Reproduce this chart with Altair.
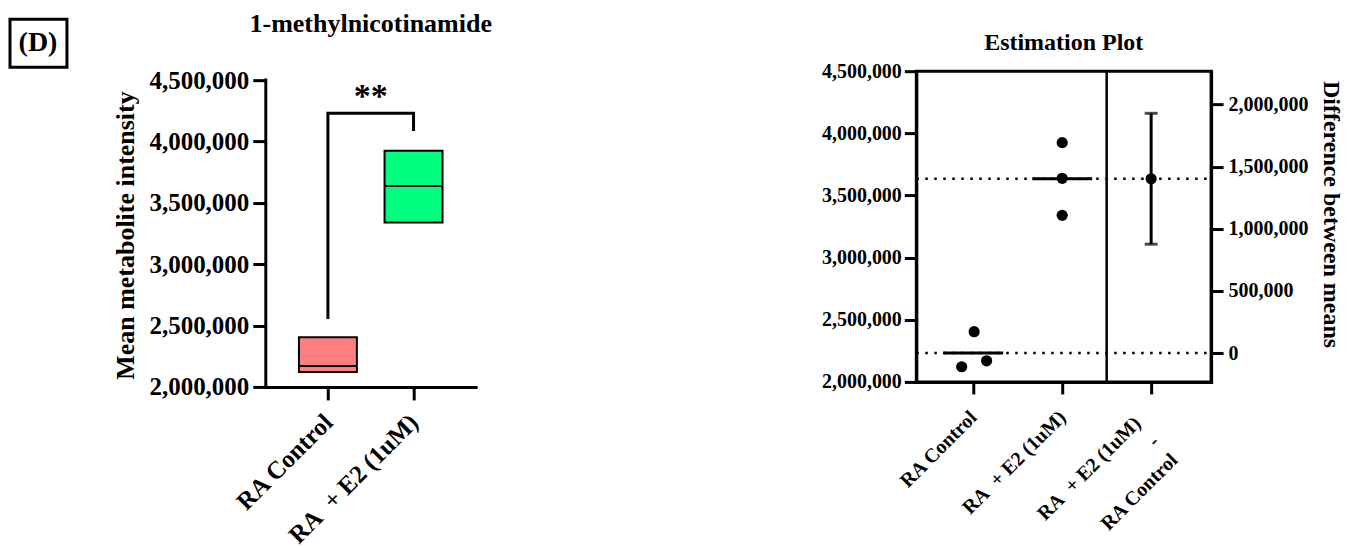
import json
import altair as alt
import pandas as pd

FONT = "Liberation Serif"

# ---- data ----
groups = ["RA Control", "RA\u00a0 + E2 (1uM)"]
ctrl_values = [2404000, 2122000, 2170000]
e2_values = [3925000, 3638000, 3340000]
ctrl_jitter = [0.01, -0.13, 0.15]
e2_jitter = [0.0, 0.0, 0.0]
box_colors = ["#FF7F7F", "#00FF7F"]
diff_label = [groups[1], "-", groups[0]]
diff_ci = [876000, 1929000]
bracket_x = [0, 0, 1, 1]
bracket_y = [2554000, 4230000, 4230000, 4085000]
sig_text = ["**"]
sig_y = [4278000]
left_ticks = [2000000, 2500000, 3000000, 3500000, 4000000, 4500000]
right_ticks = [0, 500000, 1000000, 1500000, 2000000]
panel_label = ["(D)"]
title_left = "1-methylnicotinamide"
title_right = "Estimation Plot"

df = pd.DataFrame({
    "group": [groups[0]] * len(ctrl_values) + [groups[1]] * len(e2_values),
    "idx": [0] * len(ctrl_values) + [1] * len(e2_values),
    "value": ctrl_values + e2_values,
    "jit": ctrl_jitter + e2_jitter,
})
ctrl_mean = sum(ctrl_values) / len(ctrl_values)
e2_mean = sum(e2_values) / len(e2_values)
df_diff = pd.DataFrame({"idx": [2], "diff": [e2_mean - ctrl_mean],
                        "lo": [diff_ci[0]], "hi": [diff_ci[1]]})
df_br = pd.DataFrame({"bx": bracket_x, "by": bracket_y, "ord": list(range(len(bracket_x)))})
df_sig = pd.DataFrame({"t": sig_text, "x": [0.5], "y": sig_y})
df_lab = pd.DataFrame({"t": panel_label})

# ---------------- left panel ----------------
# plot area starts 9px above the 4,500,000 tick (so both panels share one top edge)
yL_left = alt.Scale(domain=[2000000, 4573000], nice=False, zero=False)
xL = alt.Scale(domain=[-0.667, 1.667], nice=False, zero=False)

xL_axis = alt.Axis(values=[0, 1], labelExpr=f"{json.dumps(groups)}[datum.value]",
                   labelAngle=-45, labelAlign="right", labelBaseline="middle",
                   labelFontSize=25, labelPadding=18, tickSize=13, title=None,
                   labelOverlap=False, labelFlush=False, labelBound=False)
yL_axis = alt.Axis(values=left_ticks, format=",d", labelFontSize=25, tickSize=13,
                   labelPadding=4, title="Mean metabolite intensity", domain=False,
                   titleFontSize=26, titlePadding=10, titleY=164, titleAlign="center",
                   labelOverlap=False)

base = alt.Chart(df)
bars = base.mark_bar(size=58, stroke="black", strokeWidth=2).encode(
    x=alt.X("idx:Q", scale=xL, axis=xL_axis),
    y=alt.Y("min(value):Q", scale=yL_left, axis=yL_axis),
    y2="max(value)",
    color=alt.Color("group:N", scale=alt.Scale(domain=groups, range=box_colors), legend=None),
)
yline = alt.Chart(df_lab).mark_rule(strokeWidth=3, color="black", strokeCap="square").encode(
    x=alt.value(0), y=alt.datum(left_ticks[0]), y2=alt.datum(left_ticks[-1]))
med = base.mark_tick(orient="horizontal", size=58, thickness=2, color="black").encode(
    x="idx:Q", y="median(value):Q")
bracket = alt.Chart(df_br).mark_line(color="black", strokeWidth=3, strokeJoin="miter").encode(
    x="bx:Q", y="by:Q", order="ord:Q")
sig = alt.Chart(df_sig).mark_text(font=FONT, fontSize=34, fontWeight="bold",
                                  baseline="alphabetic", color="black").encode(
    x="x:Q", y="y:Q", text="t:N")
dbox = alt.Chart(df_lab).mark_rect(fillOpacity=0, stroke="black", strokeWidth=3).encode(
    x=alt.value(-256), x2=alt.value(-199), y=alt.value(-52), y2=alt.value(-4))
dtext = alt.Chart(df_lab).mark_text(font=FONT, fontSize=28, fontWeight="bold",
                                    baseline="middle", color="black").encode(
    x=alt.value(-228), y=alt.value(-28), text="t:N")
ltitle = alt.Chart(df_lab).mark_text(font=FONT, fontSize=26, fontWeight="bold",
                                     baseline="top", align="center",
                                     color="black", text=title_left).encode(
    x=alt.value(105), y=alt.value(-60))
lspacer = alt.Chart(df_lab).mark_text(text=".", opacity=0, fontSize=8, baseline="top").encode(
    x=alt.value(105), y=alt.value(-61))

left = alt.layer(bars, yline, med, bracket, sig, dbox, dtext, ltitle, lspacer).properties(
    width=210, height=316)

# ---------------- right panel ----------------
yL = alt.Scale(domain=[2000000, 4500000], nice=False, zero=False)
xR = alt.Scale(domain=[-0.640, 2.674], nice=False, zero=False)
yR = alt.Scale(domain=[2000000 - ctrl_mean, 4500000 - ctrl_mean], nice=False, zero=False)
right_labels = [groups[0], groups[1], diff_label]

xR_axis = alt.Axis(values=[0, 1, 2], labelExpr=f"{json.dumps(right_labels)}[datum.value]",
                   labelAngle=-45, labelAlign="right", labelBaseline="middle",
                   labelFontSize=20, tickSize=12, title=None,
                   labelPadding=alt.condition("datum.value == 2", alt.value(26), alt.value(20)),
                   labelOffset=alt.condition("datum.value == 2", alt.value(-14), alt.value(0)),
                   labelLineHeight=26,
                   labelOverlap=False, labelFlush=False, labelBound=False)
yRL_axis = alt.Axis(values=left_ticks, format=",d", labelFontSize=20, tickSize=12,
                    labelPadding=3, title=None, labelOverlap=False)
yRR_axis = alt.Axis(orient="right", values=right_ticks, format=",d", labelFontSize=20,
                    tickSize=12, labelPadding=5, title="Difference between means",
                    titleFontSize=24, titleAngle=90, titlePadding=10, titleY=143,
                    titleAlign="center", labelOverlap=False)

base2 = alt.Chart(df)
mean_lines = base2.mark_rule(strokeDash=[2.5, 6.5], strokeWidth=2.5, color="black").encode(
    y=alt.Y("mean(value):Q", scale=yL, axis=yRL_axis), detail="group:N",
    x=alt.value(0), x2=alt.value("width"))
mean_ticks = base2.mark_tick(orient="horizontal", size=60, thickness=3, color="black").encode(
    x=alt.X("idx:Q", scale=xR, axis=xR_axis), y="mean(value):Q")
points = base2.transform_calculate(xj="datum.idx + datum.jit").mark_circle(
    size=125, color="black", opacity=1).encode(x="xj:Q", y="value:Q")
divider = alt.Chart(df_lab).mark_rule(strokeWidth=2.5, color="black").encode(x=alt.datum(1.5))
rtitle = alt.Chart(df_lab).mark_text(font=FONT, fontSize=24, fontWeight="bold",
                                     baseline="top", align="center",
                                     color="black", text=title_right).encode(
    x=alt.value(147.5), y=alt.value(-40))
rspacer = alt.Chart(df_lab).mark_text(text=".", opacity=0, fontSize=8, baseline="top").encode(
    x=alt.value(147.5), y=alt.value(-61))

ci_rule = alt.Chart(df_diff).mark_rule(strokeWidth=3, color="black").encode(
    x="idx:Q", y=alt.Y("lo:Q", scale=yR, axis=yRR_axis), y2="hi:Q")
cap_lo = alt.Chart(df_diff).mark_tick(orient="horizontal", size=13, thickness=3, color="black").encode(
    x="idx:Q", y="lo:Q")
cap_hi = alt.Chart(df_diff).mark_tick(orient="horizontal", size=13, thickness=3, color="black").encode(
    x="idx:Q", y="hi:Q")
diff_pt = alt.Chart(df_diff).mark_circle(size=125, color="black", opacity=1).encode(
    x="idx:Q", y="diff:Q")

right_left = alt.layer(mean_lines, mean_ticks, points, divider, rtitle, rspacer)
right_right = alt.layer(ci_rule, cap_lo, cap_hi, diff_pt)
right = alt.layer(right_left, right_right).resolve_scale(y="independent").properties(
    width=295, height=311, view=alt.ViewBackground(stroke="black", strokeWidth=3))

chart = alt.hconcat(left, right, spacing=327).properties(
    padding=0).configure(font=FONT).configure_view(stroke="transparent").configure_axis(
    domainColor="black", tickColor="black", domainWidth=3, tickWidth=3,
    labelColor="black", titleColor="black", labelFont=FONT, titleFont=FONT,
    labelFontWeight="bold", titleFontWeight="bold", grid=False, domainCap="square")

chart.save("out.html", embed_options={"renderer": "svg", "actions": False})
